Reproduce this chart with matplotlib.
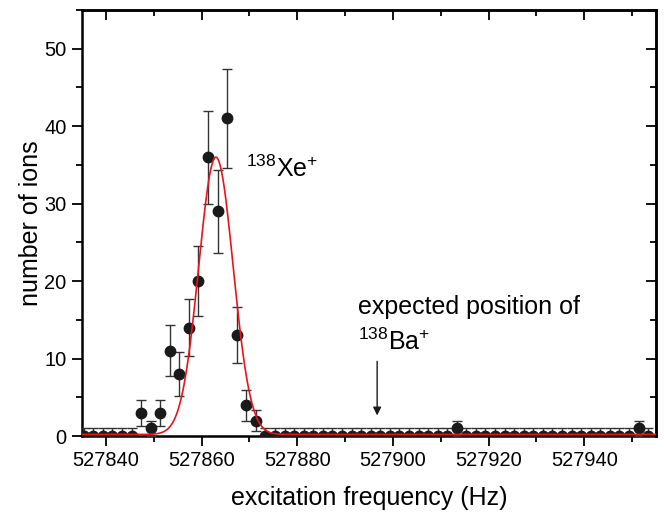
import matplotlib
matplotlib.use('Agg')
import matplotlib.pyplot as plt
import numpy as np

plt.rcParams['font.family'] = ['Liberation Sans', 'DejaVu Sans']
plt.rcParams['mathtext.fontset'] = 'custom'
plt.rcParams['mathtext.rm'] = 'Liberation Sans'
plt.rcParams['mathtext.it'] = 'Liberation Sans:italic'

# scan points (Hz), 2 Hz steps
freq = np.arange(527835.35, 527954.0, 2.0)

counts = [0, 0, 0, 0, 0, 0, 3, 1, 3, 11,
          8, 14, 20, 36, 29, 41, 13, 4, 2, 0,
          0, 0, 0, 0, 0, 0, 0, 0, 0, 0,
          0, 0, 0, 0, 0, 0, 0, 0, 0, 1,
          0, 0, 0, 0, 0, 0, 0, 0, 0, 0,
          0, 0, 0, 0, 0, 0, 0, 0, 1, 0]

errors = [1, 1, 1, 1, 1, 1, 1.7, 1, 1.7, 3.3,
          2.8, 3.7, 4.5, 6.0, 5.4, 6.4, 3.6, 2.0, 1.4, 1,
          1, 1, 1, 1, 1, 1, 1, 1, 1, 1,
          1, 1, 1, 1, 1, 1, 1, 1, 1, 1,
          1, 1, 1, 1, 1, 1, 1, 1, 1, 1,
          1, 1, 1, 1, 1, 1, 1, 1, 1, 1]

# gaussian fit parameters
y0 = 0.2
amp = 35.8
xc = 527863.0
sigma = 3.6

xmaj = np.arange(527840, 527955, 20)
xmin = np.arange(527830, 527960, 10)
ymaj = np.arange(0, 51, 10)
ymin = np.arange(0, 56, 5)

fig = plt.figure(figsize=(6.64, 5.12), dpi=100)
ax = fig.add_axes([0.1235, 0.1484, 0.8645, 0.8321])

ax.errorbar(freq, counts, yerr=errors, fmt='o', color='#1a1a1a', ms=7.5,
            ecolor='#333333', elinewidth=1, capsize=3.5, capthick=1, zorder=3)

xf = np.linspace(527835, 527955, 1200)
ax.plot(xf, y0 + amp * np.exp(-(xf - xc) ** 2 / (2 * sigma ** 2)),
        color='#e8141c', lw=1.2, zorder=4)

ax.set_xticks(xmaj)
ax.set_xticks(xmin, minor=True)
ax.set_yticks(ymaj)
ax.set_yticks(ymin, minor=True)
ax.set_xlim(527835, 527955)
ax.set_ylim(0, 55)
ax.xaxis.set_major_formatter(matplotlib.ticker.FormatStrFormatter('%d'))

ax.tick_params(which='both', direction='out', labelsize=14.4, width=1.3,
               top=False, right=False, pad=4)
ax.tick_params(which='major', length=7)
ax.tick_params(which='minor', length=4)
for s in ax.spines.values():
    s.set_linewidth(1.8)

top = ax.secondary_xaxis('top')
top.set_xticks(xmaj)
top.set_xticks(xmin, minor=True)
top.tick_params(which='both', direction='in', labeltop=False, width=1.3)
top.tick_params(which='major', length=7)
top.tick_params(which='minor', length=4)
top.spines['top'].set_linewidth(1.8)

right = ax.secondary_yaxis('right')
right.set_yticks(ymaj)
right.set_yticks(ymin, minor=True)
right.tick_params(which='both', direction='in', labelright=False, width=1.3)
right.tick_params(which='major', length=7)
right.tick_params(which='minor', length=4)
right.spines['right'].set_linewidth(1.8)

ax.set_xlim(527835, 527955)
ax.set_ylim(0, 55)

ax.set_xlabel('excitation frequency (Hz)', fontsize=18, labelpad=11)
ax.set_ylabel('number of ions', fontsize=18, labelpad=1)

ax.text(527869.2, 33.5, r'$^{138}$Xe$^{+}$', fontsize=18, va='baseline')
ax.text(527892.8, 15.7, 'expected position of', fontsize=18, va='baseline')
ax.text(527892.6, 11.1, r'$^{138}$Ba$^{+}$', fontsize=18, va='baseline')
ax.annotate('', xy=(527896.7, 2.3), xytext=(527896.7, 10.0),
            arrowprops=dict(arrowstyle='-|>', color='#1a1a1a', lw=1,
                            mutation_scale=12))

fig.savefig('out.png', dpi=100)
